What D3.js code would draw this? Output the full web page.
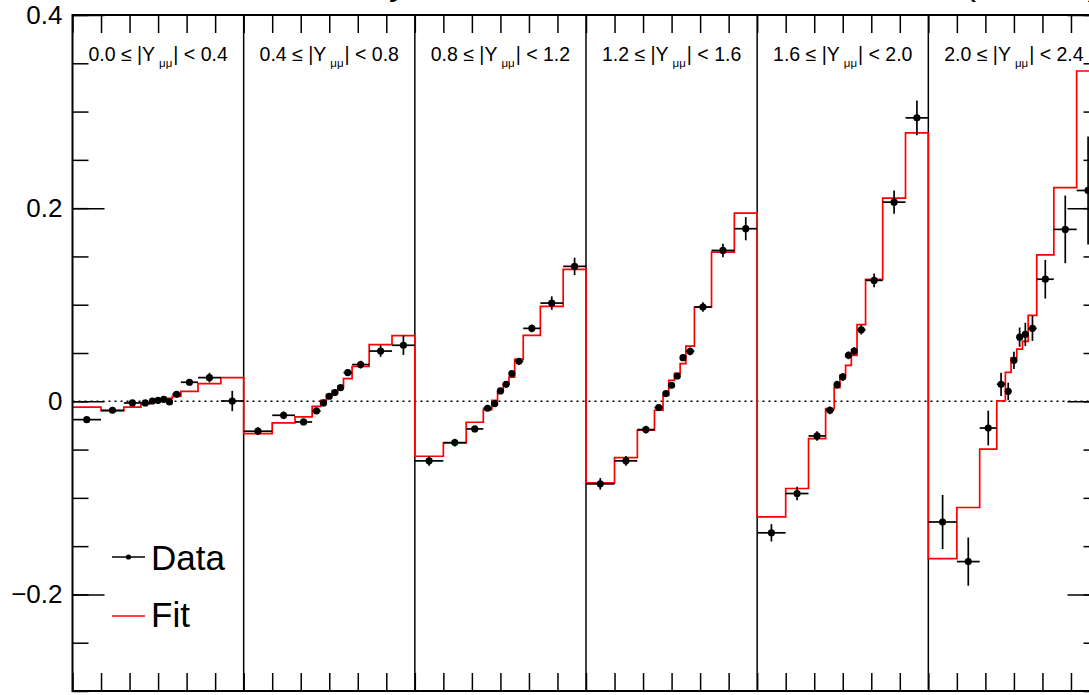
<!DOCTYPE html>
<html>
<head>
<meta charset="utf-8">
<script src="https://cdn.jsdelivr.net/npm/d3@7"></script>
<style>
  html, body { margin: 0; padding: 0; background: #ffffff; }
  svg { display: block; font-family: "Liberation Sans", Arial, Helvetica, sans-serif; }
</style>
</head>
<body>
<svg id="chart" width="1089" height="695"></svg>
<script>
// Dimuon mass bin edges (GeV), shared by every rapidity slice
const massEdges = [60, 70, 78, 84, 87, 89, 91, 93, 95, 98, 104, 112, 120];
// |Y_mumu| slice boundaries
const rapidityEdges = ["0.0", "0.4", "0.8", "1.2", "1.6", "2.0", "2.4"];
// Y-axis labelled ticks
const yLabelTicks = [-0.2, 0, 0.2, 0.4];

// Measured A_FB per mass bin, one array per rapidity slice
const data1 = [-0.019, -0.0093, -0.0017, -0.0017, 0.0003, 0.001, 0.002, -0.0007, 0.0072, 0.0197, 0.0245, 0.0003];
const data2 = [-0.031, -0.0145, -0.0214, -0.010, -0.0017, 0.0052, 0.009, 0.0142, 0.0297, 0.038, 0.052, 0.058];
const data3 = [-0.0617, -0.0428, -0.0286, -0.0072, -0.0024, 0.0107, 0.0176, 0.0287, 0.0414, 0.0755, 0.1017, 0.1397];
const data4 = [-0.0855, -0.0617, -0.0293, -0.0065, 0.008, 0.0166, 0.0262, 0.0452, 0.0517, 0.0976, 0.1562, 0.1787];
const data5 = [-0.1362, -0.0955, -0.0359, -0.0093, 0.0172, 0.0252, 0.0476, 0.052, 0.0741, 0.1252, 0.2062, 0.2935];
const data6 = [-0.125, -0.166, -0.0277, 0.0176, 0.0103, 0.0424, 0.0664, 0.0693, 0.0755, 0.1264, 0.178, 0.2183];

// Uncertainties on the measured values
const err1 = [0.003, 0.002, 0.002, 0.002, 0.002, 0.002, 0.002, 0.002, 0.002, 0.003, 0.005, 0.0105];
const err2 = [0.004, 0.004, 0.003, 0.003, 0.002, 0.002, 0.002, 0.002, 0.003, 0.004, 0.006, 0.010];
const err3 = [0.005, 0.004, 0.003, 0.003, 0.003, 0.003, 0.003, 0.003, 0.003, 0.004, 0.007, 0.009];
const err4 = [0.006, 0.005, 0.004, 0.003, 0.003, 0.003, 0.003, 0.003, 0.004, 0.005, 0.007, 0.012];
const err5 = [0.009, 0.007, 0.005, 0.004, 0.004, 0.004, 0.004, 0.004, 0.005, 0.007, 0.012, 0.018];
const err6 = [0.028, 0.025, 0.018, 0.012, 0.009, 0.009, 0.010, 0.012, 0.013, 0.020, 0.035, 0.056];

// Fitted template prediction per mass bin
const fit1 = [-0.006, -0.010, -0.006, -0.003, -0.001, 0.0003, 0.0018, 0.003, 0.005, 0.0103, 0.0183, 0.0245];
const fit2 = [-0.0334, -0.0224, -0.0162, -0.0052, 0.001, 0.007, 0.011, 0.016, 0.0235, 0.036, 0.0587, 0.068];
const fit3 = [-0.0569, -0.0431, -0.0217, -0.0086, 0.001, 0.0096, 0.018, 0.025, 0.0435, 0.0683, 0.0983, 0.1366];
const fit4 = [-0.0845, -0.0583, -0.030, -0.0093, 0.0062, 0.0217, 0.029, 0.039, 0.0572, 0.0976, 0.1545, 0.1948];
const fit5 = [-0.1197, -0.0903, -0.0386, -0.0076, 0.0142, 0.0269, 0.0372, 0.0476, 0.0793, 0.1262, 0.2103, 0.278];
const fit6 = [-0.163, -0.110, -0.0495, 0.0004, 0.030, 0.045, 0.054, 0.062, 0.089, 0.1516, 0.2212, 0.342];

const dataSets = [data1, data2, data3, data4, data5, data6];
const errSets = [err1, err2, err3, err4, err5, err6];
const fitSets = [fit1, fit2, fit3, fit4, fit5, fit6];

const svg = d3.select("#chart");
const frame = { left: 72.5, right: 1099.5, top: 15, bottom: 691 };
const massSpan = massEdges[massEdges.length - 1] - massEdges[0];
const nSlices = rapidityEdges.length - 1;

// Mass axis unrolled over all rapidity slices
const x = d3.scaleLinear().domain([0, nSlices * massSpan]).range([frame.left, frame.right]);
const y = d3.scaleLinear().domain([-0.3, 0.4]).range([frame.bottom, frame.top]);
const mx = (slice, m) => x(slice * massSpan + (m - massEdges[0]));

// Zero reference line
svg.append("line")
  .attr("x1", frame.left).attr("x2", frame.right)
  .attr("y1", y(0)).attr("y2", y(0))
  .attr("stroke", "#000").attr("stroke-width", 1.6)
  .attr("stroke-dasharray", "2,4");

// Slice separators
svg.append("g").selectAll("line")
  .data(d3.range(1, nSlices))
  .join("line")
  .attr("x1", k => x(k * massSpan)).attr("x2", k => x(k * massSpan))
  .attr("y1", frame.top).attr("y2", frame.bottom)
  .attr("stroke", "#000").attr("stroke-width", 1.5);

// Fit: one continuous step histogram over every slice
const fitPts = [];
fitSets.forEach((fs, s) => {
  fs.forEach((v, i) => {
    fitPts.push([mx(s, massEdges[i]), y(v)]);
    fitPts.push([mx(s, massEdges[i + 1]), y(v)]);
  });
});
svg.append("path")
  .attr("d", d3.line()(fitPts))
  .attr("fill", "none").attr("stroke", "#ff0000").attr("stroke-width", 1.7);

// Measured points with error bars
const points = [];
dataSets.forEach((ds, s) => {
  ds.forEach((v, i) => {
    points.push({ s, lo: massEdges[i], hi: massEdges[i + 1], v, e: errSets[s][i] });
  });
});
const pg = svg.append("g");
pg.selectAll("line.h").data(points).join("line").attr("class", "h")
  .attr("x1", d => mx(d.s, d.lo)).attr("x2", d => mx(d.s, d.hi))
  .attr("y1", d => y(d.v)).attr("y2", d => y(d.v))
  .attr("stroke", "#000").attr("stroke-width", 1.7);
pg.selectAll("line.v").data(points).join("line").attr("class", "v")
  .attr("x1", d => mx(d.s, (d.lo + d.hi) / 2)).attr("x2", d => mx(d.s, (d.lo + d.hi) / 2))
  .attr("y1", d => y(d.v - d.e)).attr("y2", d => y(d.v + d.e))
  .attr("stroke", "#000").attr("stroke-width", 1.7);
pg.selectAll("circle").data(points).join("circle")
  .attr("cx", d => mx(d.s, (d.lo + d.hi) / 2)).attr("cy", d => y(d.v))
  .attr("r", 3.6).attr("fill", "#000");

// Axes: ticks drawn inward on all four sides
const minorY = d3.range(-6, 9).map(k => +(k * 0.05).toFixed(2));
const massTicks = d3.range(0, nSlices * massSpan + 1, 10);
function clean(g) { g.select(".domain").remove(); g.selectAll(".tick line").attr("stroke", "#000").attr("stroke-width", 1.5); }

svg.append("g").attr("transform", `translate(${frame.left},0)`)
  .call(d3.axisLeft(y).tickValues(minorY).tickSize(-16).tickFormat(""))
  .call(clean);
svg.append("g").attr("transform", `translate(${frame.left},0)`)
  .call(d3.axisLeft(y).tickValues(yLabelTicks).tickSizeInner(-32).tickSizeOuter(0).tickPadding(10)
    .tickFormat(v => v === 0 ? "0" : d3.format(".1f")(v)))
  .call(clean)
  .call(g => g.selectAll("text").attr("font-size", 26).attr("fill", "#000")
    .attr("font-family", "'Liberation Sans', Arial, sans-serif"));
svg.append("g").attr("transform", `translate(${frame.right},0)`)
  .call(d3.axisRight(y).tickValues(minorY).tickSize(-16).tickFormat(""))
  .call(clean);
svg.append("g").attr("transform", `translate(${frame.right},0)`)
  .call(d3.axisRight(y).tickValues(yLabelTicks).tickSize(-32).tickFormat(""))
  .call(clean);
svg.append("g").attr("transform", `translate(0,${frame.top})`)
  .call(d3.axisTop(x).tickValues(massTicks).tickSize(-18).tickFormat(""))
  .call(clean);
svg.append("g").attr("transform", `translate(0,${frame.bottom})`)
  .call(d3.axisBottom(x).tickValues(massTicks).tickSize(-18).tickFormat(""))
  .call(clean);

// Frame
svg.append("rect")
  .attr("x", frame.left).attr("y", frame.top)
  .attr("width", frame.right - frame.left).attr("height", frame.bottom - frame.top)
  .attr("fill", "none").attr("stroke", "#000").attr("stroke-width", 2);

// Slice labels
const labels = svg.append("g").attr("font-size", 19.5).attr("fill", "#000");
d3.range(nSlices).forEach(s => {
  const t = labels.append("text")
    .attr("x", x((s + 0.5) * massSpan)).attr("y", 61)
    .attr("text-anchor", "middle");
  t.append("tspan").text(`${rapidityEdges[s]} \u2264 |Y`);
  t.append("tspan").attr("dx", 4).attr("dy", 6).attr("font-size", 11.5).text("\u03bc\u03bc");
  t.append("tspan").attr("dx", 1).attr("dy", -6).text(`| < ${rapidityEdges[s + 1]}`);
});

// Legend
const leg = svg.append("g");
leg.append("line").attr("x1", 112).attr("x2", 145).attr("y1", 557).attr("y2", 557)
  .attr("stroke", "#000").attr("stroke-width", 1.5);
leg.append("circle").attr("cx", 128.5).attr("cy", 557).attr("r", 2.6).attr("fill", "#000");
leg.append("text").attr("x", 151).attr("y", 570).attr("font-size", 35).text("Data");
leg.append("line").attr("x1", 112).attr("x2", 145).attr("y1", 616).attr("y2", 616)
  .attr("stroke", "#ff0000").attr("stroke-width", 1.5);
leg.append("text").attr("x", 151).attr("y", 627).attr("font-size", 35).text("Fit");

// Header line above the frame
const head = svg.append("g").attr("font-size", 36).attr("fill", "#000");
const h1 = head.append("text").attr("x", 410).attr("y", -6).attr("text-anchor", "end");
h1.append("tspan").attr("font-weight", "bold").text("CMS");
h1.append("tspan").attr("font-style", "italic").text(" Preliminary");
const h2 = head.append("text").attr("x", frame.right).attr("y", -6).attr("text-anchor", "end");
h2.append("tspan").text("138 fb");
h2.append("tspan").attr("dy", -12).attr("font-size", 24).text("\u22121");
h2.append("tspan").attr("dy", 12).text(" (13 TeV)");
</script>
</body>
</html>
